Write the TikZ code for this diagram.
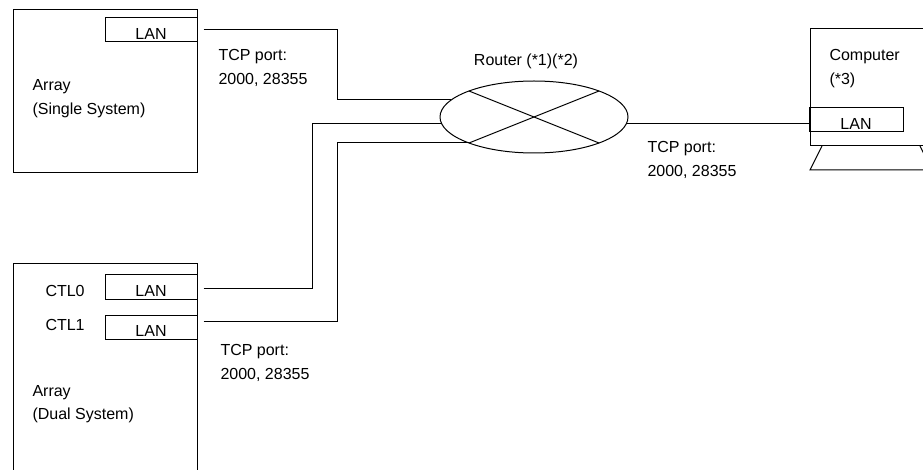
\documentclass[tikz,border=0pt]{standalone}
\usepackage{fontspec}
\setmainfont{Liberation Sans}
\usetikzlibrary{shapes.geometric,calc}
\begin{document}
\begin{tikzpicture}[x=1pt,y=-1pt,line width=1pt,
  every node/.style={font=\fontsize{16pt}{19pt}\selectfont},
  box/.style={draw,rectangle,inner sep=0pt},
  lanbox/.style={draw,rectangle,inner sep=0pt,minimum width=92pt,minimum height=24pt,text height=19.5pt,text depth=0pt},
  lbl/.style={inner sep=0pt,anchor=west,text height=11.5pt,text depth=0pt}]
\useasboundingbox (0,0) rectangle (923,470);
\clip (0,0) rectangle (923,470);
% arrays
\node[box,minimum width=184pt,minimum height=163pt] (arr1) at (105,91.5) {};
\node[lanbox] (lan1) at (151,30) {LAN};
\node[box,minimum width=184pt,minimum height=226pt] (arr2) at (105,377) {};
\node[lanbox,minimum height=25pt] (lan2) at (151,286.5) {LAN};
\node[lanbox] (lan3) at (151,327) {LAN};
% router
\node[draw,ellipse,minimum width=188pt,minimum height=72pt,inner sep=0pt] (router) at (534,117) {};
\draw ($(router.center)+(-65,-26)$) -- ($(router.center)+(65,26)$);
\draw ($(router.center)+(-65,26)$) -- ($(router.center)+(65,-26)$);
% computer
\node[box,minimum width=130pt,minimum height=117pt] (comp) at (875,87.5) {};
\node[lanbox,minimum width=94pt] (lan4) at (856,120) {LAN};
\draw (822,146) -- (810,170) -- (940,170);
\draw (920,146) -- (932,170);
% wires
\coordinate (b1) at (337,100);
\coordinate (b2) at (312,124);
\coordinate (b3) at (337,143);
\draw ([xshift=6pt]lan1.east) -| (b1) -- (router.168 |- b1);
\draw ([xshift=6pt,yshift=-1.5pt]lan2.east) -| (b2) -- (router.184 |- b2);
\draw ([xshift=6pt,yshift=6pt]lan3.east) -| (b3) -- (router.202 |- b3);
\coordinate (b4) at (700,124);
\draw (router.356 |- b4) -- (lan4.west |- b4);
% labels
\node[lbl] (t1a) at (218,55) {TCP port:};
\node[lbl] (t1b) at (218,79) {2000, 28355};
\node[lbl] (a1a) at (32,85) {Array};
\node[lbl] (a1b) at (32,109) {(Single System)};
\node[inner sep=0pt,text height=11.5pt,text depth=0pt] (rt) at (526,60) {Router (*1)(*2)};
\node[lbl] (c1) at (829,55) {Computer};
\node[lbl] (c2) at (829,79) {(*3)};
\node[lbl] (t2a) at (647,147) {TCP port:};
\node[lbl] (t2b) at (647,171) {2000, 28355};
\node[lbl] (ctl0) at (45,291) {CTL0};
\node[lbl] (ctl1) at (45,325) {CTL1};
\node[lbl] (t3a) at (220,350) {TCP port:};
\node[lbl] (t3b) at (220,374) {2000, 28355};
\node[lbl] (a2a) at (32,391) {Array};
\node[lbl] (a2b) at (32,414) {(Dual System)};
\end{tikzpicture}
\end{document}
